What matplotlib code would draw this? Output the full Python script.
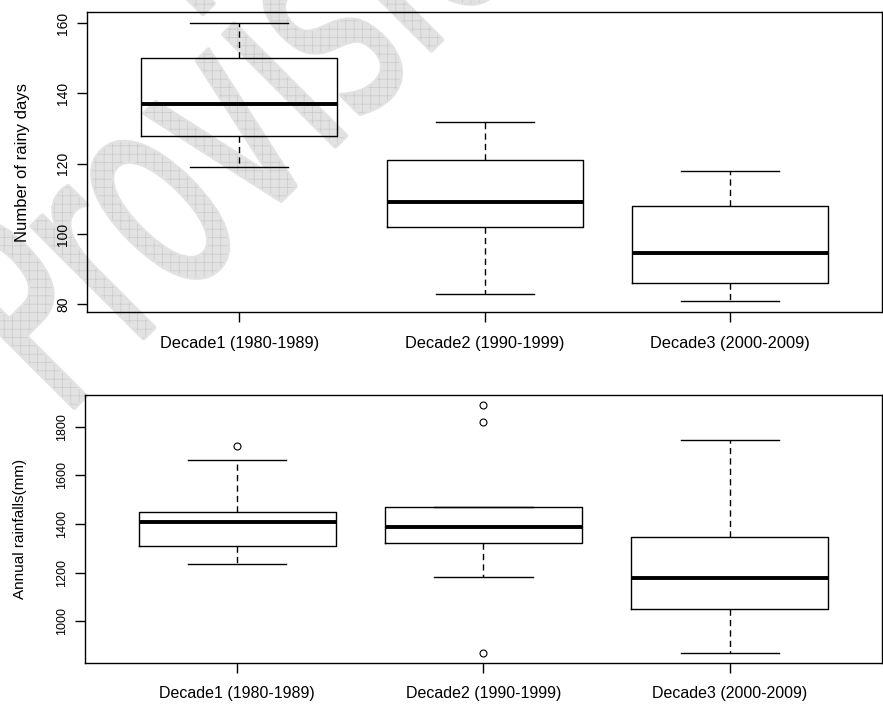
import numpy as np
import matplotlib
matplotlib.use("Agg")
import matplotlib.pyplot as plt
from matplotlib.textpath import TextPath
from matplotlib.patches import PathPatch
from matplotlib.font_manager import FontProperties
from matplotlib.transforms import Affine2D

plt.rcParams['font.family'] = ['Liberation Sans', 'DejaVu Sans']
plt.rcParams['hatch.linewidth'] = 0.5

decades = ["Decade1 (1980-1989)", "Decade2 (1990-1999)", "Decade3 (2000-2009)"]

# rainy days
days_whislo = [119, 83, 81]
days_q1 = [128, 102, 86]
days_med = [137, 109, 94.5]
days_q3 = [150, 121, 108]
days_whishi = [160, 132, 118]
days_fliers = [[], [], []]

# annual rainfall, mm
rain_whislo = [1235, 1183, 872]
rain_q1 = [1311, 1320, 1051]
rain_med = [1408, 1389, 1179]
rain_q3 = [1451, 1469, 1345]
rain_whishi = [1662, 1469, 1745]
rain_fliers = [[1719], [869, 1820, 1890], []]


def make_stats(lo, q1, med, q3, hi, fl):
    return [dict(whislo=a, q1=b, med=c, q3=d, whishi=e, fliers=f)
            for a, b, c, d, e, f in zip(lo, q1, med, q3, hi, fl)]


def r_boxplot(ax, stats, ylabel, yticks, ytick_size, ylabel_size, xtick_size, xpad, ylab_x):
    ax.set_facecolor('none')
    ax.bxp(stats, positions=[1, 2, 3], widths=0.8, capwidths=0.4,
           boxprops=dict(color='black', lw=1.0),
           whiskerprops=dict(color='black', lw=1.0, linestyle=(0, (4.5, 3))),
           capprops=dict(color='black', lw=1.0),
           medianprops=dict(color='black', lw=2.8, solid_capstyle='butt'),
           flierprops=dict(marker='o', markersize=5, markerfacecolor='none',
                           markeredgecolor='black', markeredgewidth=0.8))
    ax.set_xlim(0.5 - 0.12, 3.5 + 0.12)
    vals = []
    for s in stats:
        vals += [s['whislo'], s['whishi']] + list(s['fliers'])
    lo, hi = min(vals), max(vals)
    pad = 0.04 * (hi - lo)
    ax.set_ylim(lo - pad, hi + pad)
    ax.set_xticks([1, 2, 3])
    ax.set_xticklabels(decades, fontsize=xtick_size)
    ax.set_yticks(yticks)
    ax.set_yticklabels([str(t) for t in yticks], fontsize=ytick_size,
                       rotation=90, va='center')
    ax.tick_params(axis='x', direction='out', length=7, width=1, pad=xpad)
    ax.tick_params(axis='y', direction='out', length=7, width=1, pad=5)
    for sp in ax.spines.values():
        sp.set_linewidth(1.0)
    ax.set_ylabel(ylabel, fontsize=ylabel_size, va='center')
    ax.yaxis.set_label_coords(ylab_x, 0.5)


fig = plt.figure(figsize=(8.83, 7.04), dpi=100)

# "Provisional" watermark behind the plots: a thickened light fill, then the grid hatch
tp = TextPath((0, 0), "Provisional", size=1, prop=FontProperties(family='DejaVu Sans'))
tr = Affine2D().scale(1.70, 2.9).rotate_deg(45).translate(0.623, 2.843) + fig.dpi_scale_trans
fig.add_artist(PathPatch(tp, transform=tr, facecolor='#e2e2e2', edgecolor='#e2e2e2',
                         lw=3.0, joinstyle='round', capstyle='round', zorder=-6))
fig.add_artist(PathPatch(tp, transform=tr, facecolor='none', edgecolor='#c9c9c9',
                         hatch='++', lw=0, zorder=-5))

ax1 = fig.add_axes([87 / 883, 1 - 312 / 704, 795.5 / 883, 300 / 704])
r_boxplot(ax1, make_stats(days_whislo, days_q1, days_med, days_q3, days_whishi, days_fliers),
          "Number of rainy days", [80, 100, 120, 140, 160], 10, 12, 11.8, 10,
          (22 - 87) / 795.5)

ax2 = fig.add_axes([84.5 / 883, 1 - 663.3 / 704, 798 / 883, 268.6 / 704])
r_boxplot(ax2, make_stats(rain_whislo, rain_q1, rain_med, rain_q3, rain_whishi, rain_fliers),
          "Annual rainfalls(mm)", [1000, 1200, 1400, 1600, 1800], 9, 11, 11.5, 9,
          (20 - 84.5) / 798)

fig.savefig("out.png", dpi=100)
